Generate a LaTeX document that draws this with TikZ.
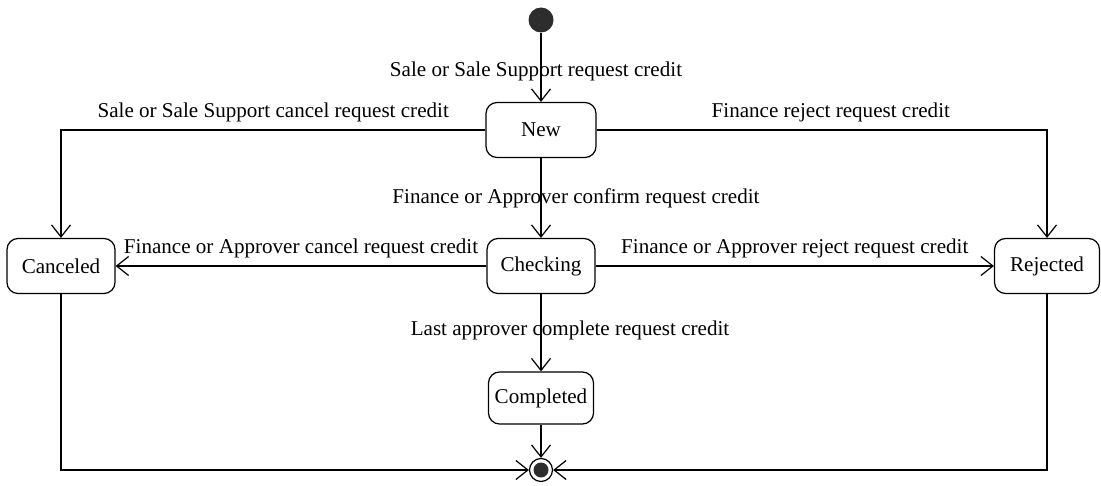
\documentclass[tikz,border=0pt]{standalone}
\usepackage{fontspec}
\setmainfont{Liberation Serif}
\usetikzlibrary{arrows.meta}
\definecolor{dotgray}{RGB}{45,45,45}

\begin{document}
\begin{tikzpicture}[x=0.02cm,y=-0.02cm,line width=0.7pt,
    font=\fontsize{12}{14}\selectfont]

    \tikzstyle{stnode}=[draw,rounded corners=2.2mm,minimum height=1.1cm,inner sep=2pt]
    \tikzstyle{trans}=[-{Straight Barb[length=2.4mm,width=3.8mm]}]
    \tikzstyle{lbl}=[inner sep=1pt]
    \tikzstyle{initst}=[circle,fill=dotgray,minimum size=5mm,inner sep=0pt]
    \tikzstyle{finst}=[circle,draw,minimum size=4.6mm,inner sep=0pt,
        path picture={\fill[dotgray] (path picture bounding box.center) circle (1.5mm);}]

    \useasboundingbox (0,0) rectangle (1101,486);

    \node[initst]                        (init) at (541,20)  {};
    \node[stnode,minimum width=2.2cm]    (new)  at (541,130) {New};
    \node[stnode,minimum width=2.16cm]   (chk)  at (541,266) {Checking};
    \node[stnode,minimum width=2.16cm]   (can)  at (61,266)  {Canceled};
    \node[stnode,minimum width=2.1cm]    (rej)  at (1047,266) {Rejected};
    \node[stnode,minimum width=2.1cm,minimum height=1.04cm] (cmp) at (541,398) {Completed};
    \node[finst]                         (fin)  at (541,470) {};

    \draw[trans] (init) -- node[lbl,xshift=-0.1cm,yshift=-0.08cm] {Sale or Sale Support request credit} (new);
    \draw[trans] (new.west) -| node[lbl,pos=0.25,above=3pt] {Sale or Sale Support cancel request credit} (can.north);
    \draw[trans] (new.east) -| node[lbl,pos=0.26,above=3pt] {Finance reject request credit} (rej.north);
    \draw[trans] (new) -- node[lbl,xshift=0.7cm] {Finance or Approver confirm request credit} (chk);
    \draw[trans] (chk) -- node[lbl,above=3pt] {Finance or Approver cancel request credit} (can);
    \draw[trans] (chk) -- node[lbl,above=3pt] {Finance or Approver reject request credit} (rej);
    \draw[trans] (chk) -- node[lbl,xshift=0.58cm,yshift=0.04cm] {Last approver complete request credit} (cmp);
    \draw[trans] (cmp) -- (fin);
    \draw[trans] (can.south) |- (fin);
    \draw[trans] (rej.south) |- (fin);
  \end{tikzpicture}
\end{document}
